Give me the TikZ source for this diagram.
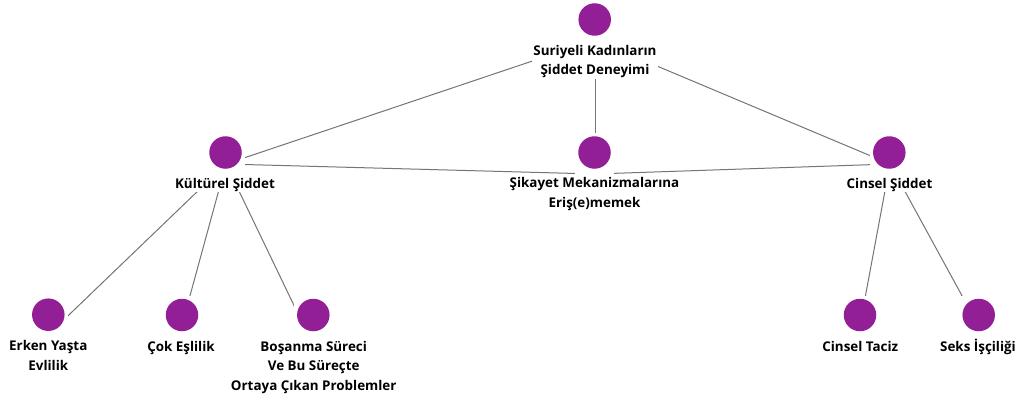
\documentclass[tikz,border=0pt]{standalone}
\usepackage{fontspec}
\setmainfont{Open Sans}
\definecolor{dotc}{HTML}{921F96}
\definecolor{edgec}{HTML}{757575}
\begin{document}
\begin{tikzpicture}[x=1pt,y=-1pt,
  edge/.style={draw=edgec, line width=1pt},
  dotnode/.style={circle, fill=dotc, minimum size=32.5pt, inner sep=0pt},
  mask/.style={fill=white},
  lab/.style={fill=white, inner sep=1pt, align=center, anchor=base,
    font=\bfseries\fontsize{13.4}{19.5}\selectfont}]
\useasboundingbox[fill=white] (0,0) rectangle (1024,401);
% group centres
\coordinate (rootc) at (595,40);
\coordinate (kulc) at (226,164);
\coordinate (sikc) at (595,174);
\coordinate (cinc) at (890,164);
\coordinate (erkc) at (48,335);
\coordinate (cokc) at (182,325);
\coordinate (bosc) at (313,345);
\coordinate (tacc) at (860,325);
\coordinate (sekc) at (978,325);
% connectors
\draw[edge] (rootc) -- (kulc);
\draw[edge] (rootc) -- (sikc);
\draw[edge] (rootc) -- (cinc);
\draw[edge] (kulc) -- (sikc);
\draw[edge] (sikc) -- (cinc);
\draw[edge] (kulc) -- (erkc);
\draw[edge] (kulc) -- (cokc);
\draw[edge] (kulc) -- (bosc);
\draw[edge] (cinc) -- (tacc);
\draw[edge] (cinc) -- (sekc);
% masks
\foreach \cx/\cy in {594.7/19.5, 225.5/152.5, 594.5/152.5, 889.3/152.5,
  48.3/314.7, 182/315, 313.3/315, 860/315, 978.7/315}
  \fill[mask] (\cx-19.5,\cy-19.5) rectangle (\cx+19.5,\cy+28);
% circles
\node[dotnode] (root) at (594.7,19.5) {};
\node[dotnode] (kul) at (225.5,152.5) {};
\node[dotnode] (sik) at (594.5,152.5) {};
\node[dotnode] (cin) at (889.3,152.5) {};
\node[dotnode] (erk) at (48.3,314.7) {};
\node[dotnode] (cok) at (182,315) {};
\node[dotnode] (bos) at (313.3,315) {};
\node[dotnode] (tac) at (860,315) {};
\node[dotnode] (sek) at (978.7,315) {};
% labels (base anchor = baseline of last line)
\node[lab] (rootl) at (595,75) {Suriyeli Kadınların\\Şiddet Deneyimi};
\node[lab] (kull) at (225,188) {Kültürel Şiddet};
\node[lab] (sikl) at (594.5,207.3) {Şikayet Mekanizmalarına\\Eriş(e)memek};
\node[lab] (cinl) at (889.5,188) {Cinsel Şiddet};
\node[lab] (erkl) at (48.3,370) {Erken Yaşta\\Evlilik};
\node[lab] (cokl) at (181,351) {Çok Eşlilik};
\node[lab] (bosl) at (313.7,390) {Boşanma Süreci\\Ve Bu Süreçte\\Ortaya Çıkan Problemler};
\node[lab] (tacl) at (860.3,351) {Cinsel Taciz};
\node[lab] (sekl) at (978,351) {Seks İşçiliği};
\end{tikzpicture}
\end{document}
